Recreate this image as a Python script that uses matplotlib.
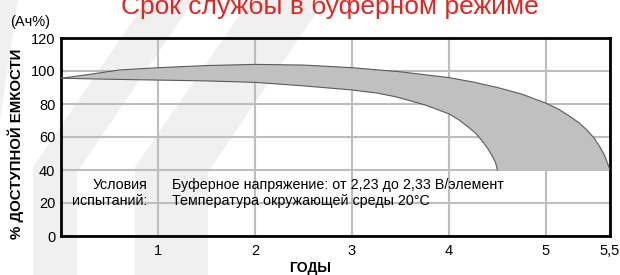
import numpy as np
import matplotlib
matplotlib.use("Agg")
from matplotlib import pyplot as plt
from matplotlib.patches import Polygon

plt.rcParams["font.family"] = ["Liberation Sans", "DejaVu Sans"]

# upper edge of the band (years, % capacity)
upper_x = [0, 0.3, 0.6, 1.0, 1.5, 2.0, 2.5, 3.0, 3.5, 4.0, 4.25, 4.5, 4.75, 5.0,
           5.1, 5.19, 5.26, 5.32, 5.38, 5.42, 5.46, 5.48, 5.5]
upper_y = [95.6, 98.0, 100.6, 102.0, 103.3, 104.0, 103.6, 102.0, 99.5, 96.0, 93.3, 90.0, 86.0, 80.5,
           76.8, 72.3, 68.5, 64.2, 59.0, 54.1, 48.5, 44.2, 40.0]

# lower edge of the band
lower_x = [0, 0.5, 1.0, 1.5, 2.0, 2.5, 3.0, 3.25, 3.45, 3.75, 4.0, 4.1, 4.2, 4.28,
           4.35, 4.4, 4.45, 4.48, 4.5, 5.5]
lower_y = [95.6, 95.0, 94.5, 94.0, 93.1, 91.0, 88.5, 86.7, 84.4, 79.5, 74.0, 70.5, 66.0, 62.0,
           57.0, 53.0, 48.0, 44.5, 40.0, 40.0]

x_ticks = [1, 2, 3, 4, 5, 5.5]
x_labels = ["1", "2", "3", "4", "5", "5,5"]
y_ticks = [0, 20, 40, 60, 80, 100, 120]

title = "Срок службы в буферном режиме"
cond_left = ["Условия", "испытаний:"]
cond_right = ["Буферное напряжение: от 2,23 до 2,33 В/элемент",
              "Температура окружающей среды 20°C"]

W, H = 620, 275
fig = plt.figure(figsize=(W / 100, H / 100), dpi=100)

# faint watermark stripes behind everything
bg = fig.add_axes([0, 0, 1, 1], zorder=-1)
bg.set_xlim(0, W)
bg.set_ylim(H, 0)
bg.axis("off")
stripes = [
    [(0, 0), (18, 0), (0, 120)],
    [(147, 0), (194, 0), (77, 172), (77, 275), (33, 275), (33, 167)],
    [(250, 0), (325, 0), (208, 172), (208, 275), (135, 275), (135, 167)],
]
for s in stripes:
    bg.add_patch(Polygon(s, closed=True, facecolor="#f0f0f0", edgecolor="none"))

ax = fig.add_axes([61 / W, 1 - 236 / H, 549 / W, 198 / H])
ax.patch.set_alpha(0)


# last half-year is drawn wider than the others
def fwd(x):
    x = np.asarray(x, dtype=float)
    return np.where(x <= 5, x, 5 + (x - 5) * 1.32)


def inv(x):
    x = np.asarray(x, dtype=float)
    return np.where(x <= 5, x, 5 + (x - 5) / 1.32)


ax.set_xscale("function", functions=(fwd, inv))
ax.set_xlim(0, 5.5)
ax.set_ylim(0, 120)

poly_x = list(upper_x) + list(lower_x[::-1])
poly_y = list(upper_y) + list(lower_y[::-1])
ax.fill(poly_x, poly_y, facecolor="#c0c0c0", edgecolor="none", zorder=2)
ax.plot(upper_x, upper_y, color="#5a5a5a", lw=0.8, zorder=3)
ax.plot(lower_x[:-1], lower_y[:-1], color="#5a5a5a", lw=0.8, zorder=3)

ax.set_xticks(x_ticks)
ax.set_xticklabels(x_labels)
ax.set_yticks(y_ticks)
ax.tick_params(length=0, labelsize=10.5, pad=4)
ax.tick_params(axis="x", pad=6)
ax.grid(True, color="#bdbdbd", lw=1.5, zorder=1)
ax.set_axisbelow(True)
for sp in ax.spines.values():
    sp.set_linewidth(2)
    sp.set_color("black")

ax.text(0.89, 31, cond_left[0], ha="right", va="center", fontsize=10.3)
ax.text(0.89, 21.2, cond_left[1], ha="right", va="center", fontsize=10.3)
ax.text(1.144, 31, cond_right[0], ha="left", va="center", fontsize=10.3)
ax.text(1.144, 21.2, cond_right[1], ha="left", va="center", fontsize=10.3)

fig.text(330 / W, 1 - 14 / H, title, color="#e3241f", fontsize=19,
         ha="center", va="baseline")
fig.text(10 / W, 1 - 22 / H, "(Ач%)", fontsize=10.5, ha="left", va="center")
fig.text(16 / W, 1 - 144 / H, "% ДОСТУПНОЙ ЕМКОСТИ", rotation=90,
         fontsize=10.8, fontweight="bold", ha="center", va="center")
fig.text(310 / W, 1 - 268 / H, "ГОДЫ", fontsize=10, fontweight="bold",
         ha="center", va="center")

fig.savefig("out.png", dpi=100)
